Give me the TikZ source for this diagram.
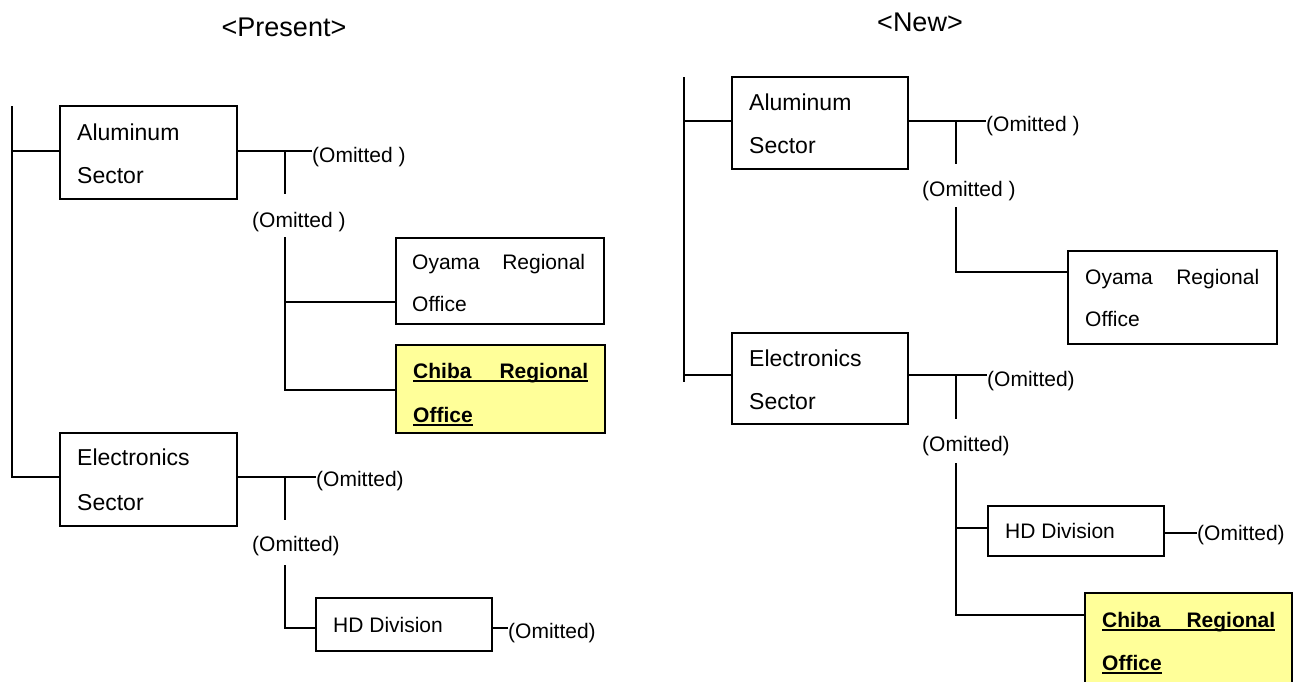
\documentclass[tikz,border=0pt]{standalone}
\usepackage{fontspec}
\setmainfont{Liberation Sans}
\definecolor{chibay}{HTML}{FFFF99}
\newsavebox\ulsb
\newcommand\ulw[1]{\sbox\ulsb{#1}\rlap{\rule[-4.3pt]{\wd\ulsb}{2.2pt}}\usebox\ulsb}
\newcommand\ulbox[2]{\rlap{\rule[-4.3pt]{#1}{2.2pt}}\hbox to #1{#2}}
\tikzset{
  boxnode/.style={draw, line width=1.3pt, inner sep=0pt},
  hlbox/.style={boxnode, fill=chibay, line width=1.8pt},
  ln/.style={line width=1.3pt},
  txt/.style={anchor=base west, inner sep=0pt, font=\fontsize{21}{25}\selectfont},
  bigtxt/.style={anchor=base west, inner sep=0pt, font=\fontsize{23}{27}\selectfont},
  boldtxt/.style={anchor=base west, inner sep=0pt, font=\fontsize{21}{25}\selectfont\bfseries},
  ttl/.style={anchor=base, inner sep=0pt, font=\fontsize{27}{32}\selectfont},
}
\begin{document}
\begin{tikzpicture}[x=1pt,y=-1pt]
\useasboundingbox (0,0) rectangle (1298,681);
\clip (0,0) rectangle (1298,681);

% ================= Present =================
\node[ttl] (tP) at (284,36) {<Present>};

\node[boxnode, minimum width=177pt, minimum height=93pt] (aluL) at (148.5,152.5) {};
\node[bigtxt] (aluL1) at (77,140) {Aluminum};
\node[bigtxt] (aluL2) at (77,183) {Sector};

\node[boxnode, minimum width=208pt, minimum height=86pt] (oyaL) at (500,281) {};
\node[txt] (oyaL1) at (412,269) {\hbox to 173pt{Oyama\hfill Regional}};
\node[txt] (oyaL2) at (412,311) {Office};

\node[hlbox, minimum width=209pt, minimum height=88pt] (chiL) at (500.5,389) {};
\node[boldtxt] (chiL1) at (413,378) {\ulbox{175pt}{Chiba\hfill Regional}};
\node[boldtxt] (chiL2) at (413,422) {\ulw{Office}};

\node[boxnode, minimum width=177pt, minimum height=93pt] (eleL) at (148.5,479.5) {};
\node[bigtxt] (eleL1) at (77,465) {Electronics};
\node[bigtxt] (eleL2) at (77,510) {Sector};

\node[boxnode, minimum width=176pt, minimum height=53pt] (hdL) at (404,624.5) {};
\node[txt] (hdL1) at (333,632) {HD Division};

\node[txt] (omL1) at (312,162) {(Omitted )};
\node[txt] (omL2) at (252,227) {(Omitted )};
\node[txt] (omL3) at (316,486) {(Omitted)};
\node[txt] (omL4) at (252,551) {(Omitted)};
\node[txt] (omL5) at (508,638) {(Omitted)};

\coordinate (trLt) at (12,106);
\coordinate (trLb) at (12,477);
\draw[ln] (trLt) -- (trLb) -- (trLb -| eleL.west);
\coordinate (jL1) at (12,151);
\draw[ln] (jL1) -- (jL1 -| aluL.west);

\coordinate (kL1) at (285,151);
\coordinate (kL1e) at (285,194);
\draw[ln] (kL1 -| aluL.east) -- (kL1 -| omL1.west);
\draw[ln] (kL1) -- (kL1e);

\coordinate (vL1) at (285,237);
\coordinate (vL1o) at (285,302);
\coordinate (vL1c) at (285,390);
\draw[ln] (vL1) -- (vL1c) -- (vL1c -| chiL.west);
\draw[ln] (vL1o) -- (vL1o -| oyaL.west);

\coordinate (kL2) at (285,477);
\coordinate (kL2e) at (285,520);
\draw[ln] (kL2 -| eleL.east) -- (kL2 -| omL3.west);
\draw[ln] (kL2) -- (kL2e);

\coordinate (vL2) at (285,565);
\coordinate (vL2h) at (285,628);
\draw[ln] (vL2) -- (vL2h) -- (vL2h -| hdL.west);
\draw[ln] (vL2h -| hdL.east) -- (vL2h -| omL5.west);

% ================= New =================
\node[ttl] (tN) at (920,31) {<New>};

\node[boxnode, minimum width=176pt, minimum height=92pt] (aluR) at (820,123) {};
\node[bigtxt] (aluR1) at (749,110) {Aluminum};
\node[bigtxt] (aluR2) at (749,153) {Sector};

\node[boxnode, minimum width=209pt, minimum height=93pt] (oyaR) at (1172.5,297.5) {};
\node[txt] (oyaR1) at (1085,284) {\hbox to 174pt{Oyama\hfill Regional}};
\node[txt] (oyaR2) at (1085,326) {Office};

\node[boxnode, minimum width=176pt, minimum height=91pt] (eleR) at (820,378.5) {};
\node[bigtxt] (eleR1) at (749,366) {Electronics};
\node[bigtxt] (eleR2) at (749,409) {Sector};

\node[boxnode, minimum width=176pt, minimum height=50pt] (hdR) at (1076,531) {};
\node[txt] (hdR1) at (1005,538) {HD Division};

\node[hlbox, minimum width=207pt, minimum height=107pt] (chiR) at (1188.5,646.5) {};
\node[boldtxt] (chiR1) at (1102,627) {\ulbox{173pt}{Chiba\hfill Regional}};
\node[boldtxt] (chiR2) at (1102,670) {\ulw{Office}};

\node[txt] (omR1) at (986,131) {(Omitted )};
\node[txt] (omR2) at (922,196) {(Omitted )};
\node[txt] (omR3) at (987,386) {(Omitted)};
\node[txt] (omR4) at (922,451) {(Omitted)};
\node[txt] (omR5) at (1197,540) {(Omitted)};

\coordinate (trRt) at (684,77);
\coordinate (trRb) at (684,382);
\draw[ln] (trRt) -- (trRb);
\coordinate (jR1) at (684,121);
\coordinate (jR2) at (684,375);
\draw[ln] (jR1) -- (jR1 -| aluR.west);
\draw[ln] (jR2) -- (jR2 -| eleR.west);

\coordinate (kR1) at (956,121);
\coordinate (kR1e) at (956,164);
\draw[ln] (kR1 -| aluR.east) -- (kR1 -| omR1.west);
\draw[ln] (kR1) -- (kR1e);

\coordinate (vR1) at (956,207);
\coordinate (vR1o) at (956,272);
\draw[ln] (vR1) -- (vR1o) -- (vR1o -| oyaR.west);

\coordinate (kR2) at (956,375);
\coordinate (kR2e) at (956,419);
\draw[ln] (kR2 -| eleR.east) -- (kR2 -| omR3.west);
\draw[ln] (kR2) -- (kR2e);

\coordinate (vR2) at (956,463);
\coordinate (vR2h) at (956,528);
\coordinate (vR2c) at (956,615);
\draw[ln] (vR2) -- (vR2c) -- (vR2c -| chiR.west);
\draw[ln] (vR2h) -- (vR2h -| hdR.west);
\coordinate (hR) at (1164,533);
\draw[ln] (hR -| hdR.east) -- (hR -| omR5.west);
\end{tikzpicture}
\end{document}
